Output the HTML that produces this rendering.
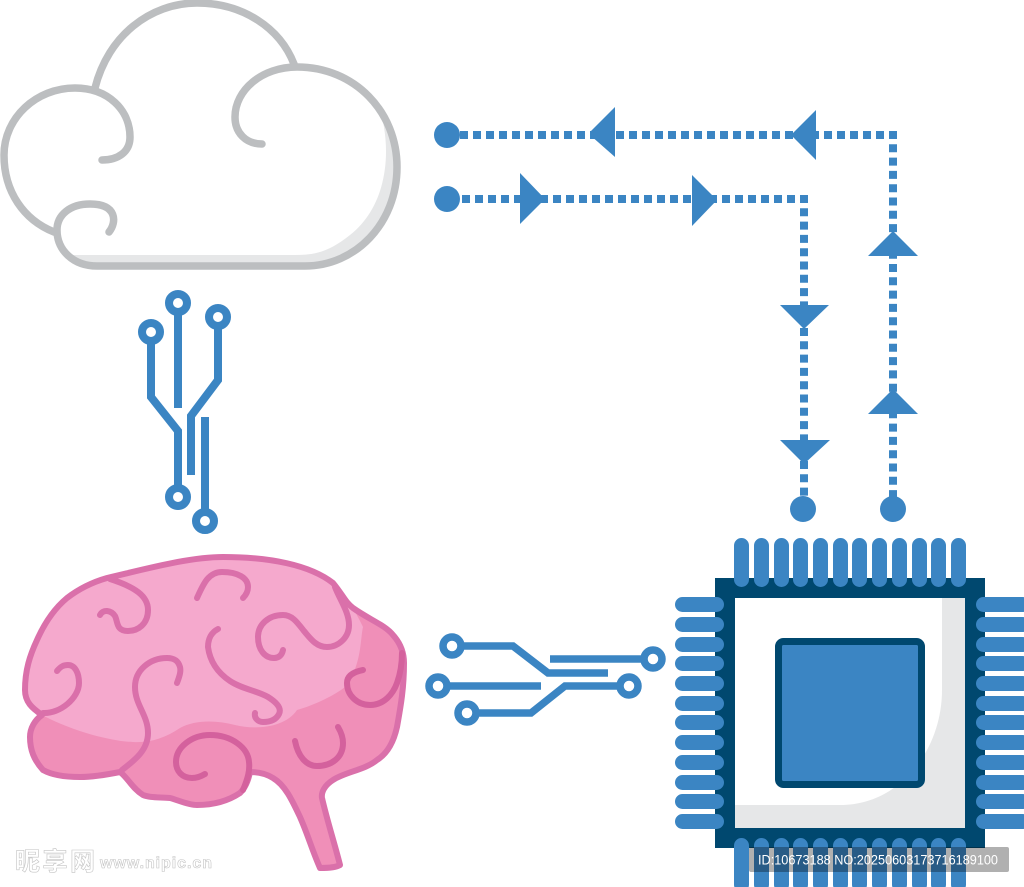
<!DOCTYPE html>
<html><head><meta charset="utf-8"><style>
html,body{margin:0;padding:0;background:#fff;width:1024px;height:887px;overflow:hidden}
svg{display:block}
</style></head><body>
<svg width="1024" height="887" viewBox="0 0 1024 887" xmlns="http://www.w3.org/2000/svg">
<!-- cloud -->
<g fill="none" stroke="#bcbec0" stroke-width="7.500" stroke-linecap="round">
<path d="M95 88C108 36 150 3 197 3C243 3 280 28 295 65L297 67C355 67 397 112 397 167C397 224 355 267 305 267L97 267C73 267 57 250 57 232C30 222 4 196 4 155C4 118 36 88 75 88C108 88 130 110 130 137C130 152 118 160 102 160" fill="#fff" stroke="none"/>
<path d="M380 110C392 150 388 205 350 235C325 255 310 255 290 255L72 255L88 267L305 267C355 267 397 224 397 167C397 145 390 125 380 110Z" fill="#e6e7e8" stroke="none"/>
<path d="M95 88C108 36 150 3 197 3C243 3 280 28 294 64"/>
<path d="M54 232C24 220 4 192 4 155C4 118 36 88 75 88C108 88 130 110 130 137C130 152 118 160 102 160"/>
<path d="M109 232C117 222 117 204 90 204C70 204 57 215 57 230C57 250 73 266 97 266L305 266C355 266 397 224 397 167C397 112 355 67 297 67C262 67 235 90 235 117C235 133 246 144 262 144"/>
</g>
<!-- vertical circuit -->
<g fill="none" stroke="#3b85c3" stroke-width="8">
<path d="M178 303V408"/>
<path d="M151 332V397L178 431V497"/>
<path d="M218 317V380L191 416V475"/>
<path d="M205 417V521"/>
<g fill="#fff"><circle cx="178" cy="303" r="9"/><circle cx="151" cy="332" r="9"/><circle cx="218" cy="317" r="9"/><circle cx="178" cy="497" r="9"/><circle cx="205" cy="521" r="9"/></g>
</g>
<!-- dotted lines -->
<g fill="none" stroke="#3b85c3" stroke-width="8">
<path d="M897 135H447" stroke-dasharray="8 5"/>
<path d="M893 131V512" stroke-dasharray="8 5.300"/>
<path d="M808 199H447" stroke-dasharray="8 5"/>
<path d="M804 195V512" stroke-dasharray="8 5.300"/>
</g>
<g fill="#3b85c3">
<circle cx="447" cy="135" r="13"/><circle cx="447" cy="199" r="13"/><circle cx="803" cy="509" r="13"/><circle cx="893" cy="509" r="13"/>
<path d="M590 132L615 107V157L590 135Z"/>
<path d="M791 135L816 110V160Z"/>
<path d="M520 173L545 199L520 224Z"/>
<path d="M692 175L717 200L692 226Z"/>
<path d="M780 305H829L804 329Z"/>
<path d="M780 440H830L804 464Z"/>
<path d="M868 256H918L893 231Z"/>
<path d="M868 414H918L893 389Z"/>
</g>
<!-- brain -->
<path id="b" d="M107 578C150 568 190 557 223 557C270 557 310 565 333 583C343 595 345 602 353 608C370 620 385 625 393 635C402 645 404 655 404 663C404 690 400 710 397 727C393 745 385 755 377 760C365 770 345 772 333 780C325 785 321 792 322 798C327 820 335 845 340 865C335 868 325 868 320 868C312 850 308 835 300 817C292 800 285 785 273 778C265 773 257 772 250 772C248 782 245 788 240 793C225 803 210 805 197 805C188 805 178 800 170 798C160 797 150 798 143 795C132 788 128 778 120 772C105 775 93 777 80 777C65 777 52 775 43 770C34 760 30 750 30 737C30 728 35 720 42 715C32 708 25 702 25 690C25 670 30 655 37 640C45 622 55 608 67 598C80 588 93 582 107 578Z" fill="#f08fb8"/>
<path d="M42 715C80 735 120 742 133 742C150 743 165 738 180 728C195 720 215 720 235 725C255 730 285 728 297 710C315 705 335 695 345 687C362 665 360 640 363 627C355 610 345 595 333 583C310 565 270 557 223 557C190 557 150 568 107 578C93 582 80 588 67 598C55 608 45 622 37 640C30 655 25 670 25 690C25 702 32 708 42 715Z" fill="#f5a9cd"/>
<g fill="none" stroke="#da70aa" stroke-width="6" stroke-linecap="round" stroke-linejoin="round">
<path d="M107 578C150 568 190 557 223 557C270 557 310 565 333 583C343 595 345 602 353 608C370 620 385 625 393 635C402 645 404 655 404 663C404 690 400 710 397 727C393 745 385 755 377 760C365 770 345 772 333 780C325 785 321 792 322 798C327 820 335 845 340 865C335 868 325 868 320 868C312 850 308 835 300 817C292 800 285 785 273 778C265 773 257 772 250 772C248 782 245 788 240 793C225 803 210 805 197 805C188 805 178 800 170 798C160 797 150 798 143 795C132 788 128 778 120 772C105 775 93 777 80 777C65 777 52 775 43 770C34 760 30 750 30 737C30 728 35 720 42 715C32 708 25 702 25 690C25 670 30 655 37 640C45 622 55 608 67 598C80 588 93 582 107 578Z"/>
<path d="M110 579C135 587 148 596 148 610C148 624 138 631 128 631C116 631 118 622 115 616C111 610 103 609 100 615"/>
<path d="M197 598C203 585 208 572 222 572C238 572 248 578 248 587C248 592 246 595 243 598"/>
<path d="M218 629C212 632 208 638 208 647C210 662 218 673 230 681C242 689 258 691 268 697C276 702 282 708 279 714C276 720 270 722 263 722C258 722 254 718 255 713"/>
<path d="M335 587C340 600 349 612 349 625C349 638 338 647 327 647C316 647 310 638 304 631C297 622 292 615 283 615C268 615 258 625 258 637C258 650 265 658 274 658C279 658 282 655 283 650"/>
<path d="M57 671C61 666 64 665 68 665C75 665 79 673 79 683C79 698 60 714 43 713"/>
<path d="M177 683C180 675 181 671 180 667C178 660 173 658 167 658C150 658 135 670 135 687C135 705 148 715 148 733C148 750 135 760 122 770"/>
<path d="M205 774C200 777 196 778 192 778C182 778 176 771 176 762C176 747 192 735 210 735C232 735 248 748 249 762C250 770 248 778 243 790" stroke="#d4619d"/>
<path d="M295 741C298 756 306 766 317 766C331 766 343 758 343 743C343 737 341 732 338 727" stroke="#d4619d"/>
<path d="M363 670C353 672 347 676 347 683C347 696 358 705 370 705C384 705 393 694 397 683C401 672 402 662 402 653" stroke="#d4619d"/>
</g>
<!-- horizontal circuit -->
<g fill="none" stroke="#3b85c3" stroke-width="7.500">
<path d="M452 646H513L548 673H608"/>
<path d="M550 659H653"/>
<path d="M438 686H541"/>
<path d="M629 686H565L531 713H467"/>
<g fill="#fff"><circle cx="452" cy="646" r="9"/><circle cx="653" cy="659" r="9"/><circle cx="438" cy="686" r="9"/><circle cx="629" cy="686" r="9"/><circle cx="467" cy="713" r="9"/></g>
</g>
<!-- chip -->
<rect x="715" y="578" width="270" height="270" fill="#00486f"/>
<rect x="735" y="598" width="230" height="230" fill="#fff"/>
<path d="M942 598H965V828H735V805H840C900 805 942 750 942 690Z" fill="#e6e7e8"/>
<rect x="778.500" y="641.500" width="143" height="143" rx="5" fill="#3b85c3" stroke="#00486f" stroke-width="7"/>
<g fill="#3b85c3">
<rect x="734" y="538" width="15" height="49" rx="7.500"/><rect x="754" y="538" width="15" height="49" rx="7.500"/><rect x="774" y="538" width="15" height="49" rx="7.500"/><rect x="793" y="538" width="15" height="49" rx="7.500"/><rect x="813" y="538" width="15" height="49" rx="7.500"/><rect x="833" y="538" width="15" height="49" rx="7.500"/><rect x="852" y="538" width="15" height="49" rx="7.500"/><rect x="872" y="538" width="15" height="49" rx="7.500"/><rect x="892" y="538" width="15" height="49" rx="7.500"/><rect x="912" y="538" width="15" height="49" rx="7.500"/><rect x="931" y="538" width="15" height="49" rx="7.500"/><rect x="951" y="538" width="15" height="49" rx="7.500"/>
<rect x="734" y="838" width="15" height="54" rx="7.500"/><rect x="754" y="838" width="15" height="54" rx="7.500"/><rect x="774" y="838" width="15" height="54" rx="7.500"/><rect x="793" y="838" width="15" height="54" rx="7.500"/><rect x="813" y="838" width="15" height="54" rx="7.500"/><rect x="833" y="838" width="15" height="54" rx="7.500"/><rect x="852" y="838" width="15" height="54" rx="7.500"/><rect x="872" y="838" width="15" height="54" rx="7.500"/><rect x="892" y="838" width="15" height="54" rx="7.500"/><rect x="912" y="838" width="15" height="54" rx="7.500"/><rect x="931" y="838" width="15" height="54" rx="7.500"/><rect x="951" y="838" width="15" height="54" rx="7.500"/>
<rect x="675" y="597" width="49" height="15" rx="7.500"/><rect x="675" y="617" width="49" height="15" rx="7.500"/><rect x="675" y="637" width="49" height="15" rx="7.500"/><rect x="675" y="656" width="49" height="15" rx="7.500"/><rect x="675" y="676" width="49" height="15" rx="7.500"/><rect x="675" y="696" width="49" height="15" rx="7.500"/><rect x="675" y="715" width="49" height="15" rx="7.500"/><rect x="675" y="735" width="49" height="15" rx="7.500"/><rect x="675" y="755" width="49" height="15" rx="7.500"/><rect x="675" y="775" width="49" height="15" rx="7.500"/><rect x="675" y="794" width="49" height="15" rx="7.500"/><rect x="675" y="814" width="49" height="15" rx="7.500"/>
<rect x="976" y="597" width="54" height="15" rx="7.500"/><rect x="976" y="617" width="54" height="15" rx="7.500"/><rect x="976" y="637" width="54" height="15" rx="7.500"/><rect x="976" y="656" width="54" height="15" rx="7.500"/><rect x="976" y="676" width="54" height="15" rx="7.500"/><rect x="976" y="696" width="54" height="15" rx="7.500"/><rect x="976" y="715" width="54" height="15" rx="7.500"/><rect x="976" y="735" width="54" height="15" rx="7.500"/><rect x="976" y="755" width="54" height="15" rx="7.500"/><rect x="976" y="775" width="54" height="15" rx="7.500"/><rect x="976" y="794" width="54" height="15" rx="7.500"/><rect x="976" y="814" width="54" height="15" rx="7.500"/>
</g>
<!-- watermarks -->
<rect x="749" y="847" width="260" height="25" rx="2" fill="#000" fill-opacity=".31"/>
<text x="758" y="864.500" font-family="'Liberation Sans',sans-serif" font-size="13.500" fill="#fff" textLength="240" lengthAdjust="spacingAndGlyphs">ID:10673188 NO:20250603173716189100</text>
<text x="15" y="870" font-family="'Liberation Sans','Noto Sans CJK SC',sans-serif" font-size="25" font-weight="700" fill="#fff" stroke="#c4c4c4" stroke-width=".6" textLength="80">昵享网</text>
<text x="100" y="868" font-family="'Liberation Sans',sans-serif" font-size="16" font-weight="700" fill="#fff" stroke="#c4c4c4" stroke-width=".6" textLength="112">www.nipic.cn</text>
</svg>
</body></html>
